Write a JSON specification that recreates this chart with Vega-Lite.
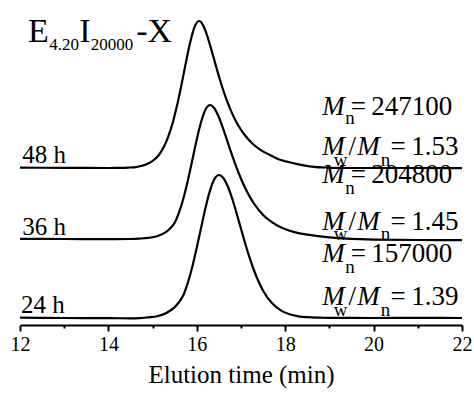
{
  "$schema": "https://vega.github.io/schema/vega-lite/v6.json",
  "width": 442,
  "height": 325,
  "autosize": {"type": "none"},
  "padding": {"left": 20, "top": 0, "right": 12, "bottom": 69},
  "background": "white",
  "config": {"view": {"stroke": null}, "font": "'Liberation Serif', 'Times New Roman', serif"},
  "datasets": {
    "traces": [
      {"series": "24 h", "time": 12, "signal": 7.3},
      {"series": "24 h", "time": 13, "signal": 7.0},
      {"series": "24 h", "time": 14, "signal": 6.8},
      {"series": "24 h", "time": 14.5, "signal": 6.7},
      {"series": "24 h", "time": 14.7, "signal": 6.9},
      {"series": "24 h", "time": 14.9, "signal": 7.7},
      {"series": "24 h", "time": 15.1, "signal": 8.7},
      {"series": "24 h", "time": 15.3, "signal": 11.7},
      {"series": "24 h", "time": 15.5, "signal": 17.9},
      {"series": "24 h", "time": 15.6, "signal": 23.0},
      {"series": "24 h", "time": 15.7, "signal": 30.3},
      {"series": "24 h", "time": 15.8, "signal": 42.6},
      {"series": "24 h", "time": 15.9, "signal": 58.5},
      {"series": "24 h", "time": 16.0, "signal": 77.4},
      {"series": "24 h", "time": 16.1, "signal": 97.8},
      {"series": "24 h", "time": 16.2, "signal": 117.8},
      {"series": "24 h", "time": 16.3, "signal": 134.7},
      {"series": "24 h", "time": 16.4, "signal": 146.0},
      {"series": "24 h", "time": 16.5, "signal": 150.0},
      {"series": "24 h", "time": 16.6, "signal": 147.0},
      {"series": "24 h", "time": 16.7, "signal": 138.7},
      {"series": "24 h", "time": 16.8, "signal": 126.5},
      {"series": "24 h", "time": 16.9, "signal": 111.8},
      {"series": "24 h", "time": 17.0, "signal": 96.2},
      {"series": "24 h", "time": 17.1, "signal": 80.8},
      {"series": "24 h", "time": 17.2, "signal": 66.6},
      {"series": "24 h", "time": 17.3, "signal": 54.0},
      {"series": "24 h", "time": 17.4, "signal": 43.2},
      {"series": "24 h", "time": 17.5, "signal": 34.3},
      {"series": "24 h", "time": 17.7, "signal": 21.9},
      {"series": "24 h", "time": 17.9, "signal": 14.6},
      {"series": "24 h", "time": 18.1, "signal": 10.7},
      {"series": "24 h", "time": 18.3, "signal": 8.7},
      {"series": "24 h", "time": 18.5, "signal": 7.8},
      {"series": "24 h", "time": 18.8, "signal": 7.3},
      {"series": "24 h", "time": 19, "signal": 7.1},
      {"series": "24 h", "time": 20, "signal": 7.0},
      {"series": "24 h", "time": 21, "signal": 7.1},
      {"series": "24 h", "time": 22, "signal": 7.0},

      {"series": "36 h", "time": 12, "signal": 86.2},
      {"series": "36 h", "time": 13, "signal": 86.0},
      {"series": "36 h", "time": 14, "signal": 85.8},
      {"series": "36 h", "time": 14.5, "signal": 86.0},
      {"series": "36 h", "time": 14.7, "signal": 86.4},
      {"series": "36 h", "time": 14.9, "signal": 87.1},
      {"series": "36 h", "time": 15.1, "signal": 88.7},
      {"series": "36 h", "time": 15.3, "signal": 92.8},
      {"series": "36 h", "time": 15.4, "signal": 96.7},
      {"series": "36 h", "time": 15.5, "signal": 102.3},
      {"series": "36 h", "time": 15.6, "signal": 112.8},
      {"series": "36 h", "time": 15.7, "signal": 127.0},
      {"series": "36 h", "time": 15.8, "signal": 145.0},
      {"series": "36 h", "time": 15.9, "signal": 165.2},
      {"series": "36 h", "time": 16.0, "signal": 185.7},
      {"series": "36 h", "time": 16.1, "signal": 203.5},
      {"series": "36 h", "time": 16.2, "signal": 215.7},
      {"series": "36 h", "time": 16.3, "signal": 220.0},
      {"series": "36 h", "time": 16.4, "signal": 216.5},
      {"series": "36 h", "time": 16.5, "signal": 207.8},
      {"series": "36 h", "time": 16.6, "signal": 195.9},
      {"series": "36 h", "time": 16.7, "signal": 182.7},
      {"series": "36 h", "time": 16.8, "signal": 169.6},
      {"series": "36 h", "time": 16.9, "signal": 157.3},
      {"series": "36 h", "time": 17.0, "signal": 146.2},
      {"series": "36 h", "time": 17.1, "signal": 136.4},
      {"series": "36 h", "time": 17.2, "signal": 128.1},
      {"series": "36 h", "time": 17.3, "signal": 121.0},
      {"series": "36 h", "time": 17.5, "signal": 110.1},
      {"series": "36 h", "time": 17.7, "signal": 102.8},
      {"series": "36 h", "time": 17.9, "signal": 97.7},
      {"series": "36 h", "time": 18.1, "signal": 94.2},
      {"series": "36 h", "time": 18.3, "signal": 91.9},
      {"series": "36 h", "time": 18.5, "signal": 90.3},
      {"series": "36 h", "time": 18.7, "signal": 89.1},
      {"series": "36 h", "time": 19.0, "signal": 87.7},
      {"series": "36 h", "time": 19.3, "signal": 86.7},
      {"series": "36 h", "time": 19.7, "signal": 85.8},
      {"series": "36 h", "time": 20, "signal": 85.4},
      {"series": "36 h", "time": 21, "signal": 85.0},
      {"series": "36 h", "time": 22, "signal": 84.8},

      {"series": "48 h", "time": 12, "signal": 157.3},
      {"series": "48 h", "time": 13, "signal": 157.2},
      {"series": "48 h", "time": 14, "signal": 157.0},
      {"series": "48 h", "time": 14.25, "signal": 157.1},
      {"series": "48 h", "time": 14.45, "signal": 157.4},
      {"series": "48 h", "time": 14.65, "signal": 158.2},
      {"series": "48 h", "time": 14.85, "signal": 160.4},
      {"series": "48 h", "time": 15.05, "signal": 165.7},
      {"series": "48 h", "time": 15.15, "signal": 170.5},
      {"series": "48 h", "time": 15.25, "signal": 177.7},
      {"series": "48 h", "time": 15.35, "signal": 187.9},
      {"series": "48 h", "time": 15.45, "signal": 201.4},
      {"series": "48 h", "time": 15.55, "signal": 218.9},
      {"series": "48 h", "time": 15.65, "signal": 239.5},
      {"series": "48 h", "time": 15.75, "signal": 261.7},
      {"series": "48 h", "time": 15.85, "signal": 282.5},
      {"series": "48 h", "time": 15.95, "signal": 298.1},
      {"series": "48 h", "time": 16.05, "signal": 304.0},
      {"series": "48 h", "time": 16.15, "signal": 299.1},
      {"series": "48 h", "time": 16.25, "signal": 287.2},
      {"series": "48 h", "time": 16.35, "signal": 272.1},
      {"series": "48 h", "time": 16.45, "signal": 256.4},
      {"series": "48 h", "time": 16.55, "signal": 241.5},
      {"series": "48 h", "time": 16.65, "signal": 228.1},
      {"series": "48 h", "time": 16.75, "signal": 216.7},
      {"series": "48 h", "time": 16.85, "signal": 206.8},
      {"series": "48 h", "time": 16.95, "signal": 198.7},
      {"series": "48 h", "time": 17.05, "signal": 192.0},
      {"series": "48 h", "time": 17.25, "signal": 181.8},
      {"series": "48 h", "time": 17.45, "signal": 174.9},
      {"series": "48 h", "time": 17.65, "signal": 170.1},
      {"series": "48 h", "time": 17.85, "signal": 165.8},
      {"series": "48 h", "time": 18.05, "signal": 163.2},
      {"series": "48 h", "time": 18.25, "signal": 161.1},
      {"series": "48 h", "time": 18.45, "signal": 159.4},
      {"series": "48 h", "time": 18.65, "signal": 158.2},
      {"series": "48 h", "time": 18.95, "signal": 157.4},
      {"series": "48 h", "time": 19.25, "signal": 157.0},
      {"series": "48 h", "time": 20, "signal": 157.0},
      {"series": "48 h", "time": 21, "signal": 157.0},
      {"series": "48 h", "time": 22, "signal": 156.8}
    ],
    "labels": [
      {"kind": "big", "label": "E", "time": 12.18, "signal": 283},
      {"kind": "big", "label": "I", "time": 13.34, "signal": 283},
      {"kind": "big", "label": "-X", "time": 14.63, "signal": 283},
      {"kind": "tiny", "label": "4.20", "time": 12.66, "signal": 275},
      {"kind": "tiny", "label": "20000", "time": 13.6, "signal": 275},
      {"kind": "hour", "label": "48 h", "time": 12.05, "signal": 162},
      {"kind": "hour", "label": "36 h", "time": 12.05, "signal": 90},
      {"kind": "hour", "label": "24 h", "time": 12.02, "signal": 12},
      {"kind": "ital", "label": "M", "time": 18.84, "signal": 210},
      {"kind": "ital", "label": "M", "time": 18.84, "signal": 170},
      {"kind": "ital", "label": "M", "time": 19.63, "signal": 170},
      {"kind": "ital", "label": "M", "time": 18.84, "signal": 142},
      {"kind": "ital", "label": "M", "time": 18.84, "signal": 95},
      {"kind": "ital", "label": "M", "time": 19.63, "signal": 95},
      {"kind": "ital", "label": "M", "time": 18.84, "signal": 63},
      {"kind": "ital", "label": "M", "time": 18.84, "signal": 20},
      {"kind": "ital", "label": "M", "time": 19.63, "signal": 20},
      {"kind": "sub", "label": "n", "time": 19.36, "signal": 201},
      {"kind": "sub", "label": "w", "time": 19.1, "signal": 159},
      {"kind": "sub", "label": "n", "time": 20.16, "signal": 159},
      {"kind": "sub", "label": "n", "time": 19.36, "signal": 131},
      {"kind": "sub", "label": "w", "time": 19.1, "signal": 85},
      {"kind": "sub", "label": "n", "time": 20.16, "signal": 85},
      {"kind": "sub", "label": "n", "time": 19.36, "signal": 52},
      {"kind": "sub", "label": "w", "time": 19.1, "signal": 9},
      {"kind": "sub", "label": "n", "time": 20.16, "signal": 9},
      {"kind": "slash", "label": "/", "time": 19.43, "signal": 170},
      {"kind": "slash", "label": "/", "time": 19.43, "signal": 95},
      {"kind": "slash", "label": "/", "time": 19.43, "signal": 20},
      {"kind": "val", "label": "=\u2009247100", "time": 21.78, "signal": 210},
      {"kind": "val", "label": "=\u20091.53", "time": 21.92, "signal": 170},
      {"kind": "val", "label": "=\u2009204800", "time": 21.78, "signal": 142},
      {"kind": "val", "label": "=\u20091.45", "time": 21.92, "signal": 95},
      {"kind": "val", "label": "=\u2009157000", "time": 21.78, "signal": 63},
      {"kind": "val", "label": "=\u20091.39", "time": 21.92, "signal": 20}
    ]
  },
  "encoding": {
    "x": {
      "field": "time",
      "type": "quantitative",
      "scale": {"domain": [12, 22], "nice": false, "zero": false},
      "axis": {
        "values": [12, 13, 14, 15, 16, 17, 18, 19, 20, 21, 22],
        "labelExpr": "datum.value % 2 === 0 ? datum.label : ''",
        "title": "Elution time (min)",
        "grid": false,
        "domainColor": "black",
        "domainWidth": 2,
        "tickColor": "black",
        "tickWidth": 2,
        "tickSize": {"condition": {"test": "datum.value % 2 !== 0", "value": 3}, "value": 6},
        "labelFont": "'Liberation Serif', 'Times New Roman', serif",
        "labelFontSize": 20,
        "labelColor": "black",
        "labelPadding": 3,
        "labelFlush": false,
        "labelOverlap": false,
        "titleFont": "'Liberation Serif', 'Times New Roman', serif",
        "titleFontSize": 25,
        "titleFontWeight": "normal",
        "titleColor": "black",
        "titlePadding": 8
      }
    },
    "y": {
      "field": "signal",
      "type": "quantitative",
      "scale": {"domain": [0, 325], "nice": false, "zero": false},
      "axis": null
    }
  },
  "layer": [
    {
      "data": {"name": "traces"},
      "mark": {"type": "line", "color": "black", "strokeWidth": 2.2, "interpolate": "monotone"},
      "encoding": {"detail": {"field": "series"}}
    },
    {
      "data": {"name": "labels"},
      "transform": [{"filter": "datum.kind === 'big'"}],
      "mark": {"type": "text", "align": "left", "baseline": "alphabetic", "font": "'Liberation Serif', 'Times New Roman', serif", "fontSize": 34, "color": "black"},
      "encoding": {"text": {"field": "label"}}
    },
    {
      "data": {"name": "labels"},
      "transform": [{"filter": "datum.kind === 'tiny'"}],
      "mark": {"type": "text", "align": "left", "baseline": "alphabetic", "font": "'Liberation Serif', 'Times New Roman', serif", "fontSize": 17, "color": "black"},
      "encoding": {"text": {"field": "label"}}
    },
    {
      "data": {"name": "labels"},
      "transform": [{"filter": "datum.kind === 'hour'"}],
      "mark": {"type": "text", "align": "left", "baseline": "alphabetic", "font": "'Liberation Serif', 'Times New Roman', serif", "fontSize": 25, "color": "black"},
      "encoding": {"text": {"field": "label"}}
    },
    {
      "data": {"name": "labels"},
      "transform": [{"filter": "datum.kind === 'ital'"}],
      "mark": {"type": "text", "align": "left", "baseline": "alphabetic", "font": "'Liberation Serif', 'Times New Roman', serif", "fontSize": 27, "fontStyle": "italic", "color": "black"},
      "encoding": {"text": {"field": "label"}}
    },
    {
      "data": {"name": "labels"},
      "transform": [{"filter": "datum.kind === 'sub'"}],
      "mark": {"type": "text", "align": "left", "baseline": "alphabetic", "font": "'Liberation Serif', 'Times New Roman', serif", "fontSize": 19, "color": "black"},
      "encoding": {"text": {"field": "label"}}
    },
    {
      "data": {"name": "labels"},
      "transform": [{"filter": "datum.kind === 'slash'"}],
      "mark": {"type": "text", "align": "left", "baseline": "alphabetic", "font": "'Liberation Serif', 'Times New Roman', serif", "fontSize": 27, "color": "black"},
      "encoding": {"text": {"field": "label"}}
    },
    {
      "data": {"name": "labels"},
      "transform": [{"filter": "datum.kind === 'val'"}],
      "mark": {"type": "text", "align": "right", "baseline": "alphabetic", "font": "'Liberation Serif', 'Times New Roman', serif", "fontSize": 27, "color": "black"},
      "encoding": {"text": {"field": "label"}}
    }
  ]
}
